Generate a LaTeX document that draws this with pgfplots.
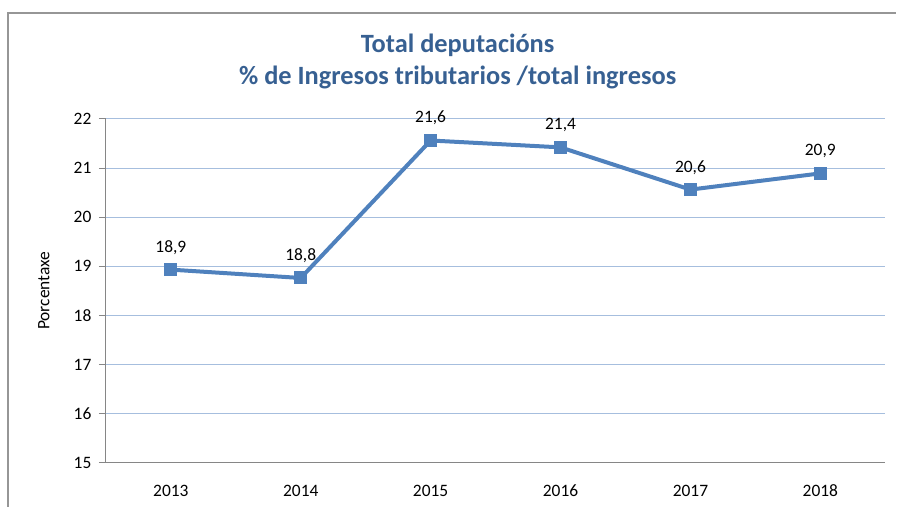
\documentclass[border=0pt]{standalone}
\usepackage{pgfplots}
\pgfplotsset{compat=1.18}
\usepackage{pgfplotstable}
\usepackage{fontspec}
\setmainfont{Carlito}
\definecolor{titleblue}{RGB}{55,96,146}
\definecolor{lineblue}{RGB}{79,129,189}
\definecolor{gridblue}{RGB}{166,190,222}
\definecolor{axisgray}{RGB}{134,134,134}
\definecolor{framegray}{RGB}{150,150,150}
\pgfplotstableread{
x y lab
0 18.93 18,9
1 18.76 18,8
2 21.56 21,6
3 21.42 21,4
4 20.56 20,6
5 20.89 20,9
}\datatable
\begin{document}
\begin{tikzpicture}[x=1bp,y=1bp]
\begin{axis}[
  at={(0,0)}, anchor=south west,
  width=780bp, height=344bp, scale only axis,
  xmin=-0.5, xmax=5.5, ymin=15, ymax=22,
  xtick={0,...,5}, xticklabels={2013,2014,2015,2016,2017,2018},
  extra x ticks={-0.5,0.5,1.5,2.5,3.5,4.5,5.5},
  extra x tick labels={},
  extra x tick style={major tick length=6bp, tick style={axisgray, line width=0.8bp}, tick align=outside, grid=none},
  major x tick style={draw=none},
  ytick={15,...,22},
  ymajorgrids, grid style={gridblue, line width=0.8bp},
  axis x line*=bottom, axis y line*=left,
  axis line style={axisgray, line width=0.9bp, -},
  y tick style={axisgray, line width=0.8bp},
  tick align=outside, major tick length=7bp,
  ticklabel style={font=\fontsize{17.5}{20}\selectfont},
  x tick label style={yshift=-11bp, text height=12bp, text depth=0pt},
  yticklabel style={xshift=-4bp},
  /pgf/number format/assume math mode=true,
  ylabel={Porcentaxe},
  ylabel style={font=\fontsize{17.5}{20}\selectfont, at={(axis description cs:-0.0795,0.5)}, anchor=center},
  clip=false,
]
\addplot[lineblue, line width=4bp, mark=square*, mark size=6bp, mark options={fill=lineblue, draw=lineblue, line width=0pt},
  nodes near coords, point meta=explicit symbolic,
  every node near coord/.append style={font=\fontsize{17.5}{20}\selectfont, text=black, yshift=12bp}]
  table[x=x, y=y, meta=lab] {\datatable};
\end{axis}
\path (-106,-44) rectangle (791,463);
\draw[framegray, line width=1.5bp] (-98,-44) -- (-98,450) -- (791,450);
\node[font=\bfseries\fontsize{26.5}{30}\selectfont, text=titleblue] at (352,418) {Total deputacións};
\node[font=\bfseries\fontsize{26.5}{30}\selectfont, text=titleblue] at (352,385) {\% de Ingresos tributarios /total ingresos};
\end{tikzpicture}
\end{document}
